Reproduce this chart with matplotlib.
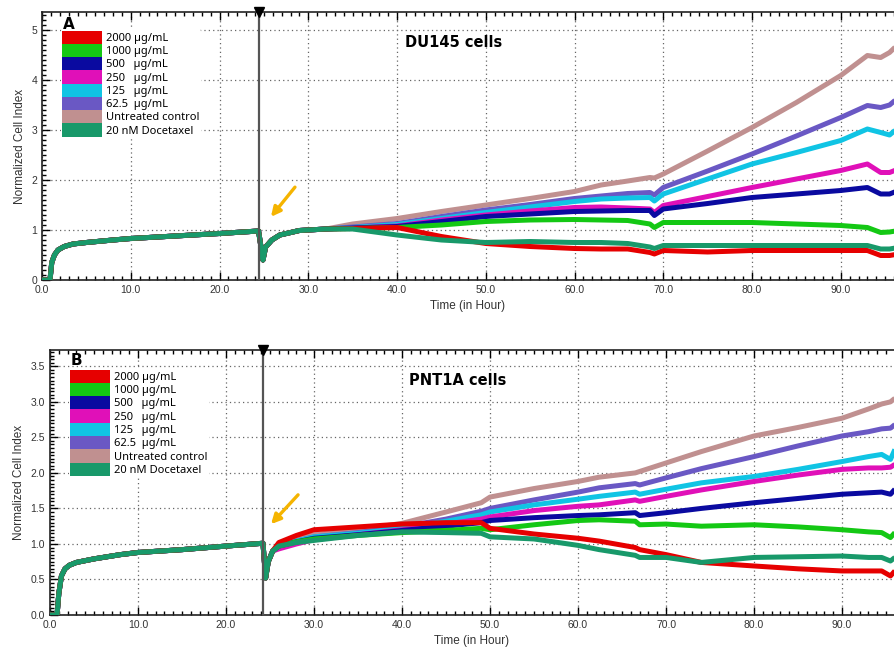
import matplotlib
matplotlib.use('Agg')
import matplotlib.pyplot as plt
from matplotlib.patches import Patch
from matplotlib.ticker import MultipleLocator, FormatStrFormatter
import numpy as np

plt.rcParams['font.family'] = ['Liberation Sans', 'DejaVu Sans']

labels = ["2000 µg/mL", "1000 µg/mL", "500   µg/mL", "250   µg/mL",
          "125   µg/mL", "62.5  µg/mL", "Untreated control", "20 nM Docetaxel"]
colors = ['#e60000', '#14c814', '#0a0aa0', '#e010b8',
          '#10c4e4', '#6a58c4', '#c09090', '#18996a']

# ---- Panel A: DU145 ----
a_pre_t = [0, 0.9, 1.1, 1.4, 1.8, 2.5, 3.5, 5, 8, 10, 15, 20, 24.4, 24.9, 25.2, 25.9, 26.8, 29, 32]
a_pre_v = [0, 0, 0.35, 0.5, 0.6, 0.67, 0.72, 0.75, 0.8, 0.83, 0.88, 0.93, 0.98, 0.4, 0.66, 0.8, 0.9, 0.99, 1.02]
a_t = [35, 40, 45, 50, 55, 60, 63, 66, 68.5, 69, 70, 75, 80, 85, 90, 93, 94.5, 95.5, 96.5]
a_red     = [1.03, 1.05, 0.87, 0.73, 0.67, 0.63, 0.62, 0.62, 0.55, 0.52, 0.59, 0.56, 0.59, 0.59, 0.59, 0.59, 0.49, 0.49, 0.52]
a_green   = [1.03, 1.05, 1.10, 1.17, 1.20, 1.21, 1.20, 1.19, 1.12, 1.05, 1.15, 1.15, 1.15, 1.12, 1.09, 1.05, 0.95, 0.96, 0.99]
a_blue    = [1.04, 1.07, 1.17, 1.27, 1.32, 1.37, 1.38, 1.39, 1.39, 1.29, 1.42, 1.53, 1.65, 1.72, 1.79, 1.85, 1.72, 1.72, 1.79]
a_magenta = [1.04, 1.08, 1.20, 1.30, 1.38, 1.45, 1.46, 1.44, 1.42, 1.35, 1.49, 1.67, 1.85, 2.02, 2.19, 2.32, 2.15, 2.15, 2.22]
a_cyan    = [1.05, 1.11, 1.23, 1.35, 1.46, 1.57, 1.62, 1.64, 1.65, 1.58, 1.72, 2.02, 2.32, 2.55, 2.79, 3.02, 2.95, 2.90, 3.05]
a_purple  = [1.06, 1.13, 1.27, 1.40, 1.51, 1.63, 1.68, 1.73, 1.75, 1.70, 1.85, 2.18, 2.52, 2.88, 3.25, 3.49, 3.45, 3.50, 3.65]
a_brown   = [1.12, 1.23, 1.37, 1.50, 1.63, 1.77, 1.90, 1.98, 2.05, 2.04, 2.12, 2.58, 3.05, 3.55, 4.09, 4.49, 4.45, 4.55, 4.72]
a_teal    = [1.02, 0.90, 0.80, 0.75, 0.77, 0.75, 0.75, 0.73, 0.66, 0.63, 0.69, 0.69, 0.69, 0.69, 0.69, 0.69, 0.62, 0.62, 0.65]

# ---- Panel B: PNT1A ----
b_pre_t = [0, 0.8, 1.0, 1.3, 1.7, 2.2, 3, 5, 8, 10, 15, 20, 24.2, 24.5, 24.8, 25.3]
b_pre_v = [0, 0, 0.3, 0.55, 0.65, 0.7, 0.74, 0.79, 0.85, 0.88, 0.92, 0.97, 1.01, 0.52, 0.75, 0.9]
b_t = [26, 28, 30, 35, 40, 45, 49, 50, 55, 60, 62.4, 66.5, 67, 70, 74, 80, 85, 90, 93, 94.5, 95.5, 96]
b_red     = [1.02, 1.12, 1.20, 1.24, 1.28, 1.30, 1.30, 1.22, 1.14, 1.08, 1.04, 0.95, 0.92, 0.85, 0.74, 0.69, 0.65, 0.62, 0.62, 0.62, 0.55, 0.62]
b_green   = [0.97, 1.03, 1.07, 1.12, 1.16, 1.19, 1.22, 1.20, 1.27, 1.33, 1.34, 1.32, 1.27, 1.28, 1.25, 1.27, 1.24, 1.20, 1.17, 1.16, 1.09, 1.16]
b_blue    = [0.97, 1.03, 1.08, 1.13, 1.19, 1.25, 1.30, 1.33, 1.37, 1.40, 1.41, 1.44, 1.40, 1.44, 1.50, 1.58, 1.64, 1.70, 1.72, 1.73, 1.70, 1.77]
b_magenta = [0.93, 1.00, 1.06, 1.13, 1.20, 1.28, 1.35, 1.38, 1.47, 1.53, 1.55, 1.62, 1.60, 1.67, 1.76, 1.88, 1.97, 2.05, 2.07, 2.07, 2.08, 2.12]
b_cyan    = [0.97, 1.04, 1.10, 1.15, 1.22, 1.32, 1.41, 1.45, 1.55, 1.63, 1.67, 1.73, 1.70, 1.77, 1.86, 1.95, 2.05, 2.16, 2.23, 2.26, 2.19, 2.33]
b_purple  = [0.97, 1.04, 1.10, 1.16, 1.24, 1.35, 1.46, 1.50, 1.62, 1.73, 1.79, 1.85, 1.83, 1.93, 2.06, 2.23, 2.38, 2.52, 2.58, 2.62, 2.63, 2.68]
b_brown   = [1.00, 1.07, 1.13, 1.20, 1.29, 1.45, 1.58, 1.66, 1.78, 1.88, 1.94, 2.00, 2.02, 2.14, 2.30, 2.52, 2.64, 2.77, 2.90, 2.97, 3.00, 3.05]
b_teal    = [0.97, 1.02, 1.05, 1.12, 1.17, 1.16, 1.15, 1.10, 1.07, 0.98, 0.92, 0.84, 0.81, 0.81, 0.74, 0.81, 0.82, 0.83, 0.81, 0.81, 0.76, 0.81]

panels = [
    dict(rect=[42/894, 1-280/661, 852/894, 268/661], xmax=96.0, ymax=5.36,
         ymaj=1, ymin=0.1, yfmt='%d', pre_t=a_pre_t, pre_v=a_pre_v, t=a_t,
         series=[a_red, a_green, a_blue, a_magenta, a_cyan, a_purple, a_brown, a_teal],
         vline=24.4, letter='A', letter_y=0.955, leg_anchor=(0.022, 0.935),
         title='DU145 cells', arrow=((28.7, 1.9), (25.6, 1.22))),
    dict(rect=[50/894, 1-615/661, 844/894, 265/661], xmax=95.9, ymax=3.73,
         ymaj=0.5, ymin=0.05, yfmt='%.1f', pre_t=b_pre_t, pre_v=b_pre_v, t=b_t,
         series=[b_red, b_green, b_blue, b_magenta, b_cyan, b_purple, b_brown, b_teal],
         vline=24.2, letter='B', letter_y=0.96, leg_anchor=(0.022, 0.93),
         title='PNT1A cells', arrow=((28.4, 1.72), (24.9, 1.25))),
]

fig = plt.figure(figsize=(8.94, 6.61), dpi=100)

draw_order = [6, 5, 4, 3, 2, 1, 0, 7]

for p in panels:
    ax = fig.add_axes(p['rect'])
    for i in draw_order:
        t = np.concatenate([p['pre_t'], p['t']])
        v = np.concatenate([p['pre_v'], p['series'][i]])
        ax.plot(t, v, color=colors[i], lw=3.6, solid_joinstyle='round',
                solid_capstyle='butt', zorder=3)

    ax.axvline(p['vline'], color='#555555', lw=1.6, zorder=4)
    ax.plot([p['vline']], [p['ymax']], marker='v', color='black', ms=7,
            clip_on=False, zorder=6)

    ax.set_xlim(0, p['xmax'])
    ax.set_ylim(0, p['ymax'])
    ax.xaxis.set_major_locator(MultipleLocator(10))
    ax.xaxis.set_minor_locator(MultipleLocator(1))
    ax.xaxis.set_major_formatter(FormatStrFormatter('%.1f'))
    ax.yaxis.set_major_locator(MultipleLocator(p['ymaj']))
    ax.yaxis.set_minor_locator(MultipleLocator(p['ymin']))
    ax.yaxis.set_major_formatter(FormatStrFormatter(p['yfmt']))
    ax.tick_params(which='both', direction='in', top=True, labelsize=7.5,
                   labelcolor='#333333', width=1)
    ax.tick_params(which='major', length=6)
    ax.tick_params(which='minor', length=3)
    ax.spines['right'].set_visible(False)
    for s in ['top', 'bottom', 'left']:
        ax.spines[s].set_linewidth(1.2)
        ax.spines[s].set_color('#222222')
    ax.grid(True, which='major', ls=(0, (1, 2.5)), color='#666666', lw=0.9, zorder=1)

    ax.set_xlabel('Time (in Hour)', fontsize=8.5, color='#333333', labelpad=4)
    ax.set_ylabel('Normalized Cell Index', fontsize=8.5, color='#333333', labelpad=4)

    handles = [Patch(facecolor=c, edgecolor='none') for c in colors]
    leg = ax.legend(handles, labels, loc='upper left', bbox_to_anchor=p['leg_anchor'],
                    frameon=True, handlelength=3.6, handleheight=1.45,
                    handletextpad=0.4, labelspacing=0.0, borderpad=0.1,
                    borderaxespad=0.0,
                    prop={'family': 'Noto Sans', 'size': 8.0})
    leg.get_frame().set_facecolor('white')
    leg.get_frame().set_edgecolor('none')
    leg.get_frame().set_alpha(1)
    leg.set_zorder(5)

    ax.text(0.025, p['letter_y'], p['letter'], transform=ax.transAxes, fontsize=11,
            fontweight='bold', va='center', ha='left', family='DejaVu Sans', zorder=7)
    ax.text(0.483, 0.885, p['title'], transform=ax.transAxes, fontsize=10.5,
            fontweight='bold', va='center', ha='center', family='DejaVu Sans')
    ax.annotate('', xy=p['arrow'][1], xytext=p['arrow'][0],
                arrowprops=dict(arrowstyle='-|>', color='#f5b400', lw=2.4,
                                mutation_scale=14), zorder=6)

plt.savefig('out.png', dpi=100)
plt.close('all')
